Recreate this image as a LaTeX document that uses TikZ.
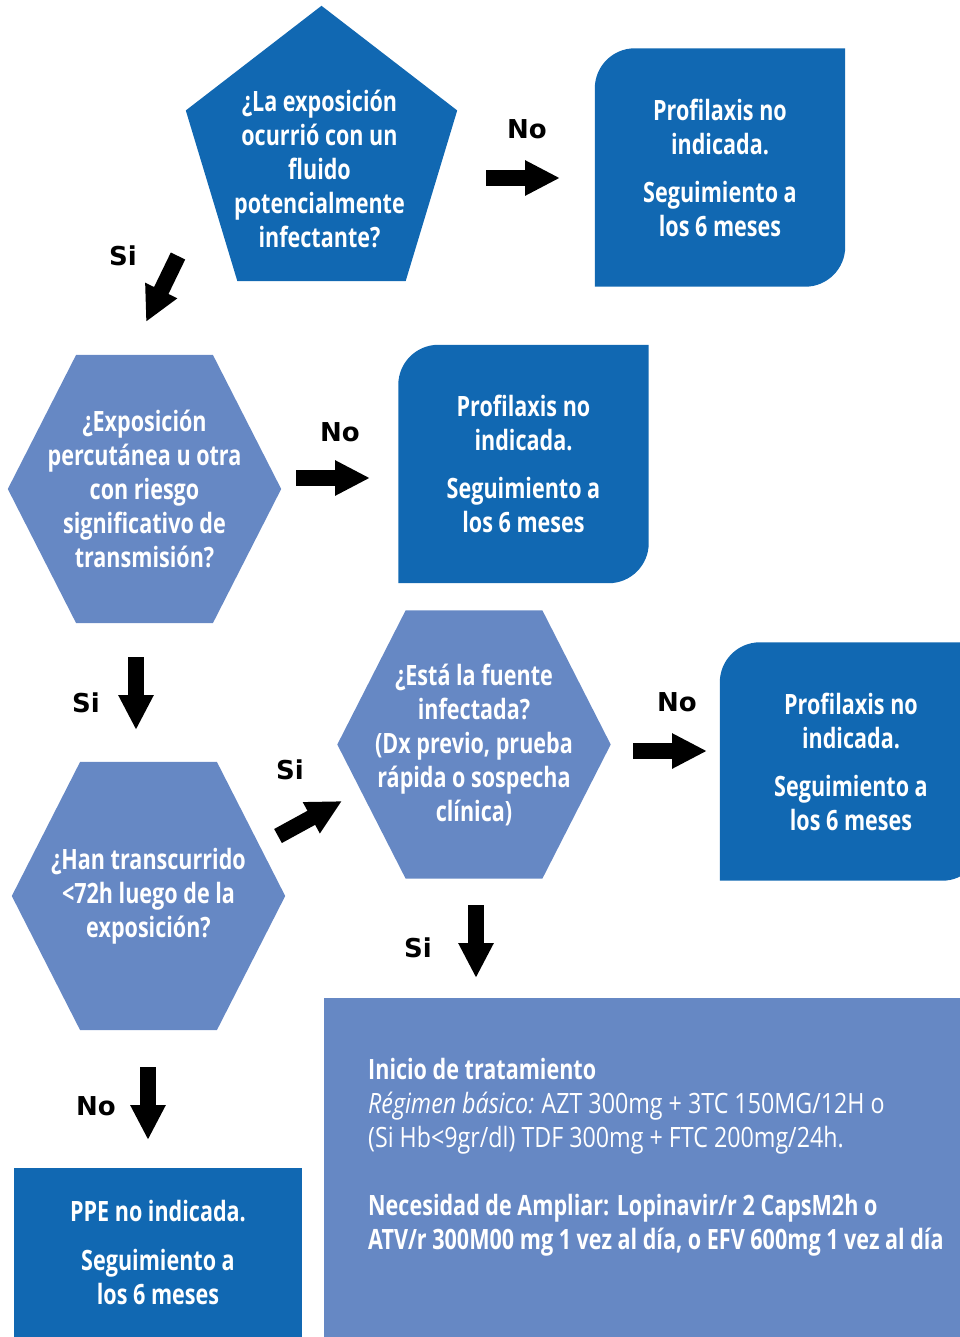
\documentclass[tikz,border=0pt]{standalone}
\usepackage{fontspec}
\setmainfont{Open Sans}[FakeStretch=0.77]
\newfontfamily\lightfont{Open Sans}[FakeStretch=0.83]
\newfontfamily\lblfont{DejaVu Sans}
\usetikzlibrary{arrows.meta,calc,backgrounds}
\definecolor{dkblue}{RGB}{17,104,178}
\definecolor{ltblue}{RGB}{102,136,196}
\begin{document}
\begin{tikzpicture}[x=1pt,y=-1pt]
    \tikzstyle{every node}=[inner sep=0pt,align=center,text=white,font=\bfseries\fontsize{28}{34}\selectfont];
    \tikzstyle{hexa}=[minimum width=273pt,minimum height=268pt];
    \tikzstyle{box}=[minimum width=250pt,minimum height=238pt];
    \tikzstyle{lbl}=[text=black,font=\lblfont\bfseries\fontsize{26}{30}\selectfont];
    \tikzstyle{blk}=[line width=16pt,-{Triangle[length=35pt,width=33pt]}];
    \useasboundingbox (0,0) rectangle (959,1337);
    \node[minimum width=271pt,minimum height=275pt] (P) at (321.5,143.5) {};
    \node (Q) at ([yshift=-25pt,xshift=-2pt]P.center) {¿La exposición\\ocurrió con un\\fluido\\potencialmente\\infectante?};
    \node[hexa] (H1) at (144.5,489) {¿Exposición\\percutánea u otra\\con riesgo\\significativo de\\transmisión?};
    \node[hexa] (H2) at (148.5,896) {¿Han transcurrido\\<72h luego de la\\exposición?};
    \node[hexa] (H3) at (474,744.5) {¿Está la fuente\\infectada?\\(Dx previo, prueba\\rápida o sospecha\\clínica)};
    \node[box] (R1) at (720,167.5) {Profilaxis no\\indicada.\\[14pt]Seguimiento a\\los 6 meses};
    \node[box] (R2) at (523.5,464) {Profilaxis no\\indicada.\\[14pt]Seguimiento a\\los 6 meses};
    \node[box,minimum width=262pt] (R3) at (851,761.5) {Profilaxis no\\indicada.\\[14pt]Seguimiento a\\los 6 meses};
    \node[minimum width=288pt,minimum height=169pt] (R4) at (158,1252.5) {PPE no indicada.\\[15pt]Seguimiento a\\los 6 meses};
    \node[minimum width=636pt,minimum height=339pt] (T) at (642,1167.5) {};
    \node[anchor=north west,align=left] (TT) at (368,1058) {Inicio de tratamiento\\
        {\lightfont\mdseries\itshape Régimen básico:} {\lightfont\mdseries AZT 300mg + 3TC 150MG/12H o}\\
        {\lightfont\mdseries (Si Hb<9gr/dl) TDF 300mg + FTC 200mg/24h.}\\[34pt]
        Necesidad de Ampliar: Lopinavir/r 2 CapsM2h o\\
        ATV/r 300M00 mg 1 vez al día, o EFV 600mg 1 vez al día};
    \begin{scope}[on background layer]
        \fill[dkblue] (P.north) -- ($(P.north west)!.38!(P.south west)$) -- ($(P.south west)!.19!(P.south east)$)
            -- ($(P.south west)!.81!(P.south east)$) -- ($(P.north east)!.38!(P.south east)$) -- cycle;
        \foreach \h in {H1,H2,H3}
            \fill[ltblue] (\h.west) -- ($(\h.north west)!.25!(\h.north east)$) -- ($(\h.north west)!.75!(\h.north east)$)
                -- (\h.east) -- ($(\h.south west)!.75!(\h.south east)$) -- ($(\h.south west)!.25!(\h.south east)$) -- cycle;
        \foreach \b in {R1,R2,R3}
            \fill[dkblue] (\b.south west) -- ([yshift=-40pt]\b.north west) arc[start angle=180,end angle=90,radius=40pt]
                -- (\b.north east) -- ([yshift=40pt]\b.south east) arc[start angle=0,end angle=-90,radius=40pt] -- cycle;
        \fill[dkblue] (R4.south west) rectangle (R4.north east);
        \fill[ltblue] (T.south west) rectangle (T.north east);
    \end{scope}
    \coordinate (a1) at (178,256);  \coordinate (b1) at (146,322);
    \coordinate (a2) at (486,178);  \coordinate (b2) at (560,178);
    \coordinate (a3) at (296,478);  \coordinate (b3) at (370,478);
    \coordinate (a4) at (136,657);  \coordinate (b4) at (136,730);
    \coordinate (a5) at (278,836);  \coordinate (b5) at (342,801);
    \coordinate (a6) at (633,751);  \coordinate (b6) at (707,751);
    \coordinate (a7) at (476,905);  \coordinate (b7) at (476,978);
    \coordinate (a8) at (148,1067); \coordinate (b8) at (148,1140);
    \draw[blk] (a1) -- node[lbl,xshift=-39pt,yshift=33pt] (s1) {Si} (b1);
    \draw[blk] (a2) -- node[lbl,xshift=4pt,yshift=49pt] (n1) {No} (b2);
    \draw[blk] (a3) -- node[lbl,xshift=7pt,yshift=46pt] (n2) {No} (b3);
    \draw[blk] (a4) -- node[lbl,xshift=-50pt,yshift=-9pt] (s2) {Si} (b4);
    \draw[blk] (a5) -- node[lbl,xshift=-20pt,yshift=49pt] (s3) {Si} (b5);
    \draw[blk] (a6) -- node[lbl,xshift=7pt,yshift=49pt] (n3) {No} (b6);
    \draw[blk] (a7) -- node[lbl,xshift=-58pt,yshift=-6pt] (s4) {Si} (b7);
    \draw[blk] (a8) -- node[lbl,xshift=-52pt,yshift=-3pt] (n4) {No} (b8);
\end{tikzpicture}
\end{document}
